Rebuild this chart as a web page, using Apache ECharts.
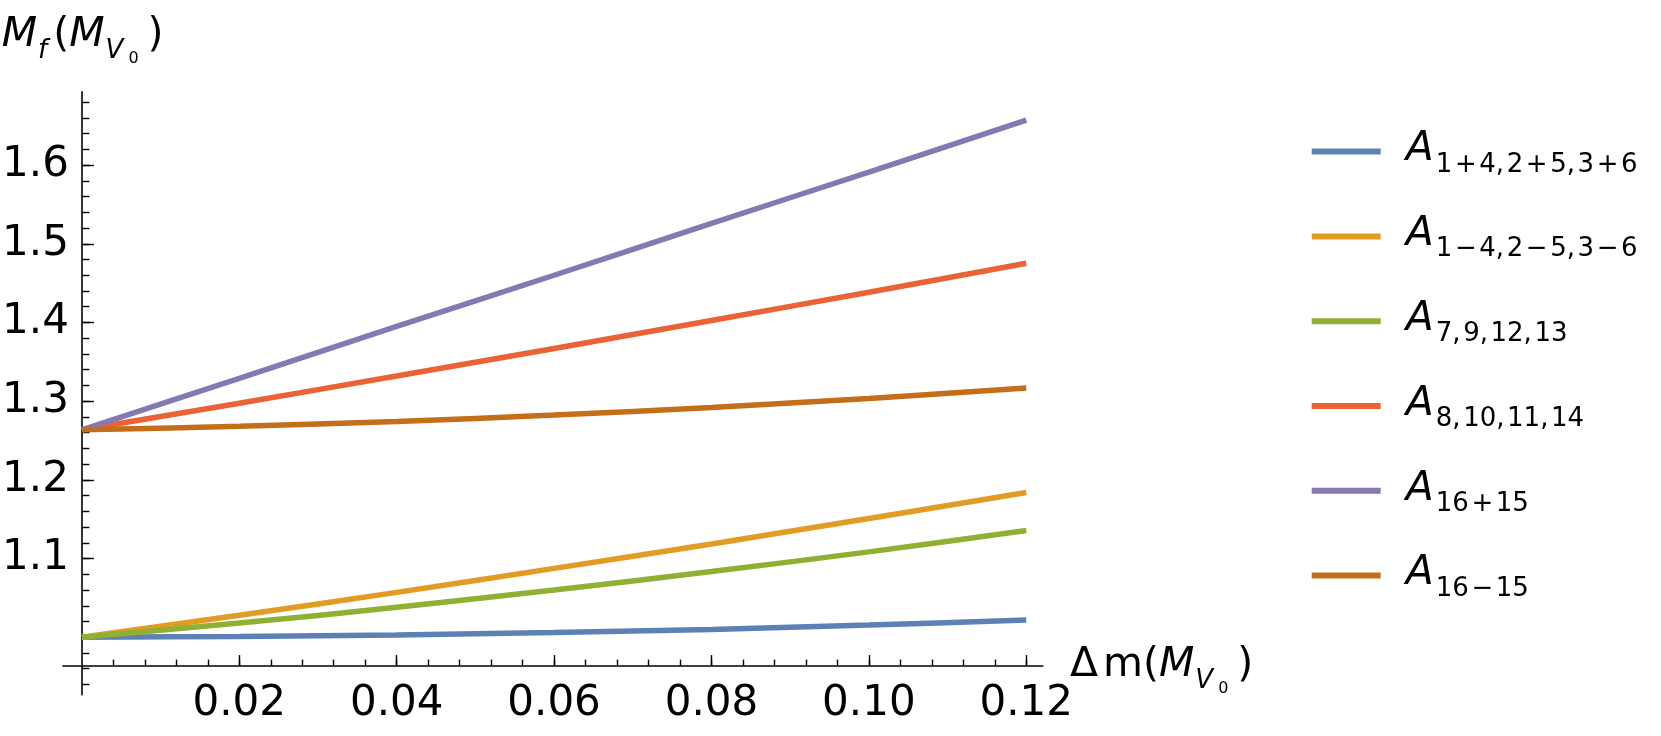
<!DOCTYPE html>
<html>
<head>
<meta charset="utf-8">
<script src="https://cdn.jsdelivr.net/npm/echarts@6/dist/echarts.min.js"></script>
<style>
html,body{margin:0;padding:0;background:#fff;}
#chart{width:1661px;height:736px;}
</style>
</head>
<body>
<div id="chart"></div>
<script>
// ---- data ----
const xValues = [0, 0.02, 0.04, 0.06, 0.08, 0.10, 0.12];
const seriesNames = ['1+4,2+5,3+6', '1\u22124,2\u22125,3\u22126', '7,9,12,13', '8,10,11,14', '16+15', '16\u221215'];
const sBlue   = [1.000, 1.001, 1.003, 1.006, 1.010, 1.0155, 1.022];
const sOrange = [1.000, 1.028, 1.057, 1.0875, 1.1185, 1.151, 1.184];
const sGreen  = [1.000, 1.018, 1.038, 1.060, 1.0835, 1.1085, 1.1356];
const sRed    = [1.2636, 1.2974, 1.332, 1.367, 1.4025, 1.4385, 1.4753];
const sPurple = [1.2636, 1.329, 1.395, 1.460, 1.526, 1.591, 1.657];
const sBrown  = [1.2636, 1.268, 1.2743, 1.2823, 1.292, 1.3035, 1.3168];
const xMajorTicks = [0.02, 0.04, 0.06, 0.08, 0.10, 0.12];
const yMajorTicks = [1.0, 1.1, 1.2, 1.3, 1.4, 1.5, 1.6];
const yLabelTicks = [1.1, 1.2, 1.3, 1.4, 1.5, 1.6];

// ---- styling / layout ----
const colors = ['#5E81B5', '#E19C24', '#8FB032', '#EB6235', '#8778B3', '#C56E1A'];
const allSeries = [sBlue, sOrange, sGreen, sRed, sPurple, sBrown];
const FONT = 'DejaVu Sans';
const X_MIN = -0.0024, X_MAX = 0.1221, Y_MIN = 0.927, Y_MAX = 1.693, X_AXIS_AT = 0.964;
const G = {left: 63, top: 91.9, width: 979.8, height: 602.8};
const xOffset = -(X_AXIS_AT - Y_MIN) / (Y_MAX - Y_MIN) * G.height;
const yOffset = -(0 - X_MIN) / (X_MAX - X_MIN) * G.width;

const xMinor = [];
for (let k = 1; k <= 30; k++) xMinor.push(+(k * 0.004).toFixed(3));
const yMinor = [];
for (let k = 47; k <= 84; k++) yMinor.push(+(k * 0.02).toFixed(2));

const chart = echarts.init(document.getElementById('chart'), null, {renderer: 'canvas'});

const axisLineStyle = {color: '#000', width: 1.6};
const tickStyle = {color: '#000', width: 1.4};

const richMain = {
  a: {fontFamily: FONT, fontStyle: 'italic', fontSize: 41, lineHeight: 56, verticalAlign: 'bottom', padding: [0, 2, 9.4, 20], color: '#000'},
  s: {fontFamily: FONT, fontSize: 26, lineHeight: 56, verticalAlign: 'bottom', padding: [0, 0, 1.7, 0], color: '#000'}
};

function nameRich(fill) {
  return {
    m: {fontFamily: FONT, fontStyle: 'italic', fontSize: 41, lineHeight: 56, verticalAlign: 'bottom', padding: [0, 0, 12, 0], fill: fill},
    r: {fontFamily: FONT, fontSize: 41, lineHeight: 56, verticalAlign: 'bottom', padding: [0, 0, 12, 0], fill: fill},
    d: {fontFamily: FONT, fontSize: 41, lineHeight: 56, verticalAlign: 'bottom', padding: [0, 5, 12, 0], fill: fill},
    p: {fontFamily: FONT, fontSize: 41, lineHeight: 56, verticalAlign: 'bottom', padding: [0, 0, 12, 4], fill: fill},
    s: {fontFamily: FONT, fontStyle: 'italic', fontSize: 26, lineHeight: 56, verticalAlign: 'bottom', padding: [0, 2, 3.6, 1], fill: fill},
    ss: {fontFamily: FONT, fontSize: 16, lineHeight: 56, verticalAlign: 'bottom', padding: [0, 9, 1.6, 3], fill: fill}
  };
}

function spacedSub(s) {
  return s.replace(/,/g, ',\u200A').replace(/([+\u2212])/g, '\u200A$1\u200A');
}

const option = {
  animation: false,
  backgroundColor: '#fff',
  grid: {left: G.left, top: G.top, width: G.width, height: G.height, containLabel: false, outerBoundsMode: 'none'},
  legend: {
    orient: 'vertical',
    left: 1311.7,
    top: 129.2,
    padding: 0,
    itemGap: 34.4,
    itemWidth: 69,
    itemHeight: 6,
    icon: 'rect',
    selectedMode: false,
    data: seriesNames.map(n => 'A' + n),
    formatter: function (name) { return '{a|A}{s|' + spacedSub(name.slice(1)) + '}'; },
    textStyle: {fontFamily: FONT, color: '#000', rich: richMain}
  },
  xAxis: [
    {
      type: 'value', min: X_MIN, max: X_MAX, position: 'bottom', offset: xOffset,
      axisLine: {show: true, onZero: false, lineStyle: axisLineStyle},
      axisTick: {show: true, inside: true, length: 10.5, lineStyle: tickStyle, customValues: xMajorTicks},
      axisLabel: {show: true, customValues: xMajorTicks, margin: 18, fontFamily: FONT, fontSize: 42, color: '#000',
        formatter: v => v.toFixed(2)},
      splitLine: {show: false}
    },
    {
      type: 'value', min: X_MIN, max: X_MAX, position: 'bottom', offset: xOffset,
      axisLine: {show: false, onZero: false},
      axisTick: {show: true, inside: true, length: 6, lineStyle: tickStyle, customValues: xMinor},
      axisLabel: {show: false},
      splitLine: {show: false}
    }
  ],
  yAxis: [
    {
      type: 'value', min: Y_MIN, max: Y_MAX, position: 'left', offset: yOffset,
      axisLine: {show: true, onZero: false, lineStyle: axisLineStyle},
      axisTick: {show: true, inside: true, length: 12, lineStyle: tickStyle, customValues: yMajorTicks},
      axisLabel: {show: true, customValues: yLabelTicks, margin: 13, fontFamily: FONT, fontSize: 42, color: '#000',
        formatter: v => v.toFixed(1)},
      splitLine: {show: false}
    },
    {
      type: 'value', min: Y_MIN, max: Y_MAX, position: 'left', offset: yOffset,
      axisLine: {show: false, onZero: false},
      axisTick: {show: true, inside: true, length: 7.5, lineStyle: tickStyle, customValues: yMinor},
      axisLabel: {show: false},
      splitLine: {show: false}
    }
  ],
  graphic: [
    {
      type: 'text', x: 1.7, y: 12.3, silent: true,
      style: {text: '{m|M}{s|f}{p|(}{m|M}{s|V}{ss|0}{r|)}', rich: nameRich('#000'), align: 'left', verticalAlign: 'top', fill: '#000'}
    },
    {
      type: 'text', x: 1070, y: 642, silent: true,
      style: {text: '{d|\u0394}{r|m(}{m|M}{s|V}{ss|0}{r|)}', rich: nameRich('#000'), align: 'left', verticalAlign: 'top', fill: '#000'}
    }
  ],
  series: allSeries.map((arr, i) => ({
    name: 'A' + seriesNames[i],
    type: 'line',
    xAxisIndex: 0,
    yAxisIndex: 0,
    smooth: 0.3,
    showSymbol: false,
    symbol: 'none',
    color: colors[i],
    lineStyle: {width: 5.5, color: colors[i]},
    itemStyle: {color: colors[i]},
    emphasis: {disabled: true},
    data: xValues.map((x, j) => [x, arr[j]])
  }))
};
chart.setOption(option);
</script>
</body>
</html>
